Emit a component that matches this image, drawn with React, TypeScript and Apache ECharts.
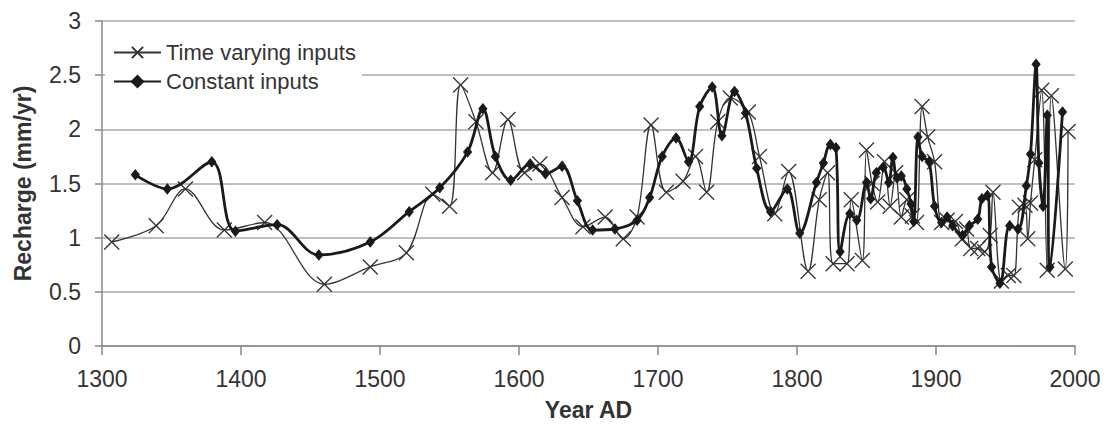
import React, { useEffect, useRef } from "react";
import * as echarts from "echarts";

const tvYears = [1307, 1339, 1360, 1388, 1417, 1460, 1493, 1519, 1538, 1550, 1558, 1569, 1581, 1592, 1604, 1615, 1631, 1646, 1662, 1675, 1685, 1695, 1706, 1718, 1727, 1735, 1743, 1752, 1765, 1773, 1784, 1794, 1808, 1816, 1822, 1826, 1836, 1839, 1847, 1850, 1854, 1858, 1863, 1867, 1871, 1875, 1879, 1883, 1886, 1890, 1894, 1899, 1904, 1908, 1914, 1919, 1922, 1925, 1930, 1935, 1939, 1941, 1947, 1952, 1956, 1960, 1964, 1966, 1968, 1971, 1976, 1980, 1983, 1993, 1995];
const tvValues = [0.96, 1.11, 1.45, 1.07, 1.14, 0.57, 0.73, 0.86, 1.40, 1.29, 2.41, 2.07, 1.60, 2.09, 1.60, 1.68, 1.37, 1.10, 1.19, 0.99, 1.19, 2.04, 1.42, 1.52, 1.75, 1.42, 2.07, 2.29, 2.16, 1.75, 1.22, 1.61, 0.69, 1.35, 1.60, 0.76, 0.76, 1.35, 0.79, 1.81, 1.50, 1.33, 1.70, 1.29, 1.60, 1.19, 1.35, 1.20, 1.14, 2.21, 1.93, 1.70, 1.14, 1.16, 1.15, 0.99, 1.08, 0.90, 0.90, 0.87, 1.02, 1.42, 0.60, 0.65, 0.65, 1.28, 1.30, 0.99, 1.32, 1.72, 2.36, 0.70, 2.31, 0.71, 1.98];

const ciYears = [1324, 1347, 1379, 1396, 1426, 1456, 1493, 1521, 1543, 1563, 1574, 1583, 1594, 1608, 1619, 1631, 1642, 1653, 1669, 1685, 1694, 1703, 1713, 1722, 1730, 1739, 1746, 1755, 1763, 1771, 1781, 1793, 1802, 1814, 1819, 1824, 1828, 1831, 1838, 1843, 1850, 1853, 1857, 1862, 1866, 1869, 1872, 1875, 1879, 1882, 1884, 1887, 1890, 1895, 1899, 1904, 1908, 1912, 1919, 1924, 1930, 1933, 1937, 1940, 1946, 1953, 1959, 1965, 1968, 1972, 1974, 1977, 1980, 1982, 1991];
const ciValues = [1.58, 1.45, 1.70, 1.06, 1.12, 0.84, 0.96, 1.24, 1.46, 1.79, 2.19, 1.75, 1.53, 1.68, 1.59, 1.66, 1.34, 1.07, 1.08, 1.16, 1.37, 1.75, 1.92, 1.70, 2.21, 2.39, 1.94, 2.35, 2.15, 1.64, 1.24, 1.45, 1.04, 1.51, 1.69, 1.86, 1.83, 0.87, 1.22, 1.16, 1.51, 1.36, 1.60, 1.65, 1.51, 1.74, 1.55, 1.57, 1.45, 1.31, 1.15, 1.93, 1.75, 1.70, 1.29, 1.14, 1.19, 1.11, 1.02, 1.11, 1.17, 1.36, 1.39, 0.73, 0.58, 1.11, 1.08, 1.48, 1.77, 2.60, 1.69, 1.29, 2.13, 0.73, 2.16];

const seriesNames = ["Time varying inputs", "Constant inputs"];
const xTitle = "Year AD";
const yTitle = "Recharge (mm/yr)";

const FONT = "Liberation Sans, Arial, sans-serif";

export default function App() {
  const ref = useRef<HTMLDivElement>(null);
  useEffect(() => {
    if (!ref.current) return;
    const chart = echarts.init(ref.current, null, { renderer: "svg" });
    const tvData = tvYears.map((y, i) => [y, tvValues[i]]);
    const ciData = ciYears.map((y, i) => [y, ciValues[i]]);
    chart.setOption({
      animation: false,
      backgroundColor: "#fff",
      grid: { left: 102, right: 29, top: 21, bottom: 78 },
      legend: {
        orient: "vertical",
        left: 105,
        top: 35,
        padding: [6, 6, 14, 8],
        backgroundColor: "#fff",
        itemWidth: 47,
        itemHeight: 14,
        itemGap: 6,
        textStyle: { fontFamily: FONT, fontSize: 22, color: "#333", lineHeight: 23 },
        data: seriesNames,
      },
      xAxis: {
        type: "value",
        min: 1300,
        max: 2000,
        interval: 100,
        name: xTitle,
        nameLocation: "middle",
        nameGap: 52,
        nameTextStyle: { fontFamily: FONT, fontSize: 23, fontWeight: "bold", color: "#333" },
        axisLine: { show: true, lineStyle: { color: "#888", width: 1.5 } },
        axisTick: { show: true, length: 9, lineStyle: { color: "#888", width: 1.5 } },
        axisLabel: { fontFamily: FONT, fontSize: 23, color: "#333", margin: 21, formatter: (v: number) => String(v) },
        splitLine: { show: false },
      },
      yAxis: {
        type: "value",
        min: 0,
        max: 3,
        interval: 0.5,
        name: yTitle,
        nameLocation: "middle",
        nameGap: 68,
        nameRotate: 90,
        nameTextStyle: { fontFamily: FONT, fontSize: 23, fontWeight: "bold", color: "#333" },
        axisLine: { show: true, lineStyle: { color: "#888", width: 1.5 } },
        axisTick: { show: true, length: 7, lineStyle: { color: "#888", width: 1.5 } },
        axisLabel: { fontFamily: FONT, fontSize: 23, color: "#333", margin: 21, padding: [6, 0, 0, 0] },
        splitLine: { show: true, lineStyle: { color: "#aaa", width: 1.5 } },
      },
      series: [
        {
          name: seriesNames[0],
          type: "line",
          data: tvData,
          smooth: 0.35,
          symbol: "path://M0,0L10,10M10,0L0,10",
          symbolSize: 15,
          itemStyle: { color: "#333", borderColor: "#333", borderWidth: 1.3 },
          lineStyle: { color: "#333", width: 1.3 },
          z: 2,
        },
        {
          name: seriesNames[1],
          type: "line",
          data: ciData,
          smooth: 0.35,
          symbol: "diamond",
          symbolSize: [8, 10],
          itemStyle: { color: "#1a1a1a", borderColor: "#1a1a1a", borderWidth: 1 },
          lineStyle: { color: "#1a1a1a", width: 2.8 },
          z: 3,
        },
      ],
    });
    return () => chart.dispose();
  }, []);
  return <div ref={ref} style={{ width: 1104, height: 426, position: "absolute", left: 0, top: 0 }} />;
}
